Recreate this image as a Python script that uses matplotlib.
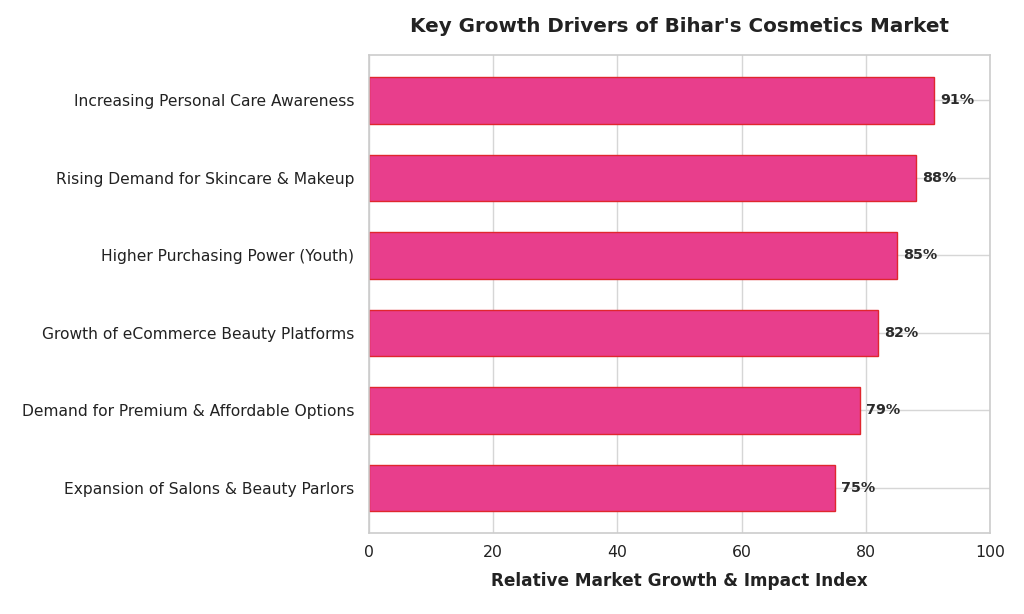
import matplotlib
matplotlib.use("Agg")
import matplotlib.pyplot as plt
import seaborn as sns

drivers = [
    "Increasing Personal Care Awareness",
    "Rising Demand for Skincare & Makeup",
    "Higher Purchasing Power (Youth)",
    "Growth of eCommerce Beauty Platforms",
    "Demand for Premium & Affordable Options",
    "Expansion of Salons & Beauty Parlors",
]
impact = [91, 88, 85, 82, 79, 75]

sns.set_style("whitegrid")
plt.rcParams['font.family'] = ['DejaVu Sans']

fig, ax = plt.subplots(figsize=(10.24, 6.14), dpi=100)
fig.subplots_adjust(left=0.36, right=0.967, top=0.91, bottom=0.132)

pos = list(range(len(drivers)))[::-1]
bars = ax.barh(pos, impact, height=0.6, color="#E83E8C", edgecolor="#E0262E", linewidth=1)

for b, v in zip(bars, impact):
    ax.text(b.get_width() + 1.0, b.get_y() + b.get_height() / 2, f"{v}%",
            va="center", ha="left", fontsize=10.3, fontweight="bold", color="#2b2b2b")

ax.set_yticks(pos)
ax.set_yticklabels(drivers, fontsize=11.2, color="#222222")
ax.set_xlim(0, 100)
ax.set_ylim(-0.58, 5.58)
ax.tick_params(axis="y", pad=7)
ax.tick_params(axis="x", labelsize=11.3, colors="#222222", pad=5)
ax.set_xlabel("Relative Market Growth & Impact Index", fontsize=12.2, fontweight="bold",
              color="#222222", labelpad=9)
ax.set_title("Key Growth Drivers of Bihar's Cosmetics Market", fontsize=14.3,
             fontweight="bold", color="#222222", pad=17)
ax.grid(True, color="#d6d6d6", linewidth=1)
ax.set_axisbelow(True)
for s in ax.spines.values():
    s.set_color("#cccccc")
    s.set_linewidth(1.2)

plt.savefig("out.png", dpi=100)
